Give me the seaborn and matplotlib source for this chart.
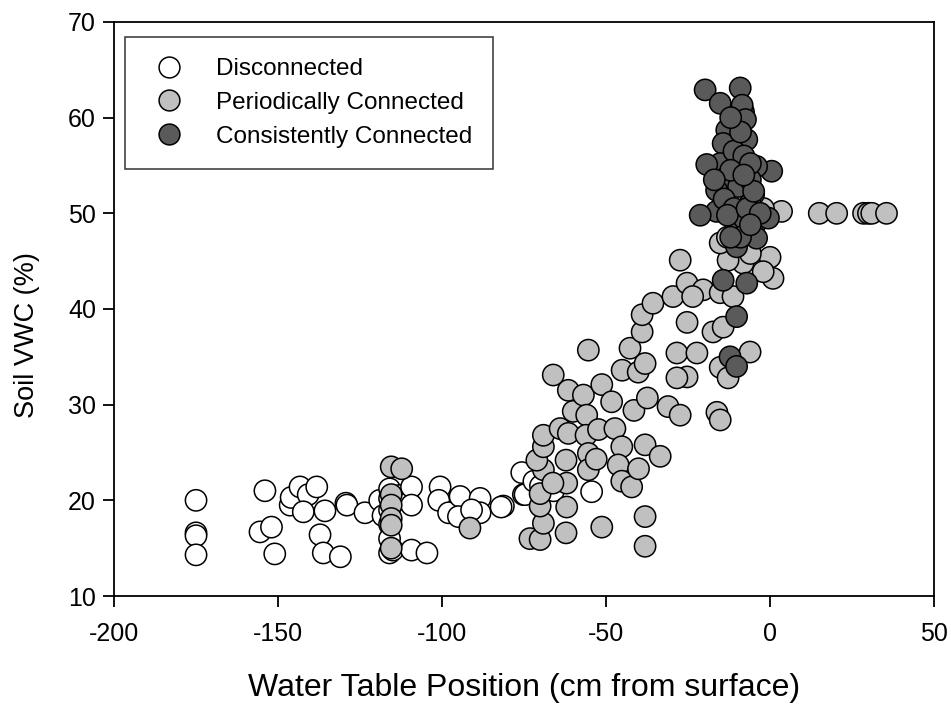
import matplotlib
matplotlib.use("Agg")
import matplotlib.pyplot as plt
import seaborn as sns
import pandas as pd

# Water table position (cm from surface) and soil VWC (%) by connectivity class
disc_x = [-175, -175, -175, -175, -154, -155.5, -152, -151, -146.3, -146, -143.3, -140.8,
          -138.2, -142.3, -135.7, -137.2, -136.2, -131, -129.3, -129, -123.5, -119, -118,
          -116, -116, -116, -116, -116, -116, -115, -113, -110, -109.3, -109.3, -109.3,
          -104.6, -100.6, -101, -98, -94.5, -95, -88.4, -88.4, -91, -81.3, -82, -75.7,
          -75.2, -74.7, -72, -70, -66, -54.4]
disc_y = [20.0, 16.6, 16.3, 14.3, 21.0, 16.7, 17.2, 14.4, 19.5, 20.3, 21.4, 20.6,
          21.4, 18.8, 18.9, 16.4, 14.5, 14.1, 19.7, 19.5, 18.7, 20.0, 18.4,
          21.2, 20.2, 19.0, 17.5, 16.0, 14.5, 14.8, 20.5, 19.8, 21.4, 19.5, 14.8,
          14.5, 21.4, 20.0, 18.7, 20.4, 18.3, 20.2, 18.7, 19.0, 19.4, 19.3, 22.9,
          20.6, 20.6, 22.0, 21.5, 21.0, 20.9]

peri_x = [-115.5, -112.3, -115.5, -115.5, -115.5, -115.5, -115.5, -91.5,
          -73.2, -70.1, -69.1, -70.1, -70.1, -69.1, -71.1, -69.1, -69.1, -64.0,
          -62.2, -62.0, -62.0, -62.2, -66.2, -61.5, -60.0, -61.5, -56.9, -55.9,
          -56.1, -55.4, -55.4, -53.0, -52.3, -51.3, -48.3, -47.3, -45.2, -46.3,
          -45.2, -42.2, -40.1, -38.1, -41.5, -37.4, -33.5, -51.3, -38.1, -38.1,
          -55.4, -66.1, -31.1, -27.4, -16.2, -15.2, -28.4, -22.3, -25.3, -28.4,
          -6.1, -15.2, -12.8, -42.7, -39.0, -39.0, -35.7, -45.1, -40.2, -38.1,
          -25.3, -29.6, -25.3, -20.4, -15.2, -11.3, -17.4, -14.3, -8.2, -12.8,
          0.9, 0.0, -2.1, -27.4, -23.6, -15.2, 3.5, 15.0, 20.3, 28.5, 30.0, 31.0,
          35.5, -2.0, -5.0, -13.0, -6.0]
peri_y = [23.5, 23.3, 20.6, 19.5, 18.1, 17.4, 15.0, 17.1,
          16.0, 15.9, 17.6, 19.4, 20.7, 23.2, 24.2, 25.6, 26.8, 27.5,
          24.2, 21.8, 19.3, 16.6, 21.8, 27.0, 29.3, 31.5, 31.0, 28.9,
          26.8, 24.9, 23.2, 24.3, 27.4, 32.1, 30.3, 27.5, 25.6, 23.7,
          22.0, 21.4, 23.3, 25.8, 29.4, 30.7, 24.6, 17.2, 18.3, 15.2,
          35.7, 33.1, 29.8, 28.9, 29.2, 28.4, 35.4, 35.4, 32.9, 32.8,
          35.5, 33.9, 32.8, 35.9, 37.6, 39.4, 40.6, 33.6, 33.4, 34.3,
          38.6, 41.3, 42.7, 42.0, 41.7, 41.3, 37.6, 38.1, 44.8, 45.1,
          43.2, 45.4, 43.9, 45.1, 41.3, 46.9, 50.2, 50.0, 50.0, 50.0, 50.0, 50.0,
          50.0, 50.5, 52.0, 47.5, 45.8]

cons_x = [-19.8, -15.2, -9.1, -8.1, -8.5, -7.5, -13.2, -14.3, -7.1, -9.1, -15.2, -19.3,
          0.5, -4.1, -13.2, -16.3, -9.6, -6.1, -16.3, -21.3, -4.1, -0.5, -10.2, -10.2,
          -4.1, -7.1, -14.3, -10.2, -12.2, -10.2, -11.0, -8.0, -12.0, -6.0, -14.0,
          -11.0, -8.0, -13.0, -7.0, -3.0, -9.0, -6.0, -12.0, -17.0, -5.0, -9.0, -6.0,
          -12.0, -8.0]
cons_y = [62.9, 61.5, 63.1, 60.6, 61.3, 59.8, 58.7, 57.3, 57.7, 55.8, 55.2, 55.1,
          54.4, 54.9, 53.8, 52.4, 52.8, 51.0, 50.2, 49.8, 49.1, 49.5, 48.3, 46.5,
          47.4, 42.7, 43.0, 39.2, 35.0, 34.0, 56.5, 56.0, 54.5, 53.5, 51.5,
          50.5, 49.5, 49.8, 50.5, 50.0, 58.5, 55.2, 60.0, 53.5, 52.3, 47.5, 48.8,
          47.5, 54.0]

classes = ["Disconnected", "Periodically Connected", "Consistently Connected"]
fills = ["#ffffff", "#c0c0c0", "#5a5a5a"]

df = pd.concat([
    pd.DataFrame({"wt": disc_x, "vwc": disc_y, "cls": classes[0]}),
    pd.DataFrame({"wt": peri_x, "vwc": peri_y, "cls": classes[1]}),
    pd.DataFrame({"wt": cons_x, "vwc": cons_y, "cls": classes[2]}),
], ignore_index=True)

sns.set_style("white")
plt.rcParams["font.family"] = ["Liberation Sans", "DejaVu Sans"]
plt.rcParams["axes.unicode_minus"] = False
plt.rcParams["text.color"] = "black"
plt.rcParams["axes.labelcolor"] = "black"

fig = plt.figure(figsize=(9.51, 7.04), dpi=100)
ax = fig.add_axes([0.1199, 0.1534, 0.8623, 0.8154])

sns.scatterplot(data=df, x="wt", y="vwc", hue="cls", hue_order=classes,
                palette=dict(zip(classes, fills)), s=235, edgecolor="black",
                linewidth=1.1, alpha=1, ax=ax, legend=False)

ax.set_xlim(-200, 50)
ax.set_ylim(10, 70)
ax.set_xticks([-200, -150, -100, -50, 0, 50])
ax.set_yticks([10, 20, 30, 40, 50, 60, 70])
ax.tick_params(axis="both", which="major", direction="out", length=8, width=1.3,
               labelsize=18, bottom=True, left=True, top=False, right=False,
               colors="black", pad=5)
ax.tick_params(axis="x", pad=11)
for sp in ax.spines.values():
    sp.set_linewidth(1.3)
    sp.set_color("black")

ax.set_xlabel("Water Table Position (cm from surface)", fontsize=23, color="black")
ax.set_ylabel("Soil VWC (%)", fontsize=19.5, color="black")
ax.xaxis.set_label_coords(0.5, -0.134)
ax.yaxis.set_label_coords(-0.090, 0.455)

handles = [plt.Line2D([], [], linestyle="none", marker="o", markersize=15,
                      markerfacecolor=c, markeredgecolor="black", markeredgewidth=1.1)
           for c in fills]
leg = ax.legend(handles, classes, loc="upper left", bbox_to_anchor=(0.0134, 0.974),
                borderaxespad=0, frameon=True, fancybox=False, fontsize=17.5,
                handletextpad=0.95, labelspacing=0.48, borderpad=0.88, handlelength=1.9)
leg.get_frame().set_edgecolor("black")
leg.get_frame().set_linewidth(1.1)
for t in leg.get_texts():
    t.set_color("black")

fig.savefig("out.png", dpi=100)
